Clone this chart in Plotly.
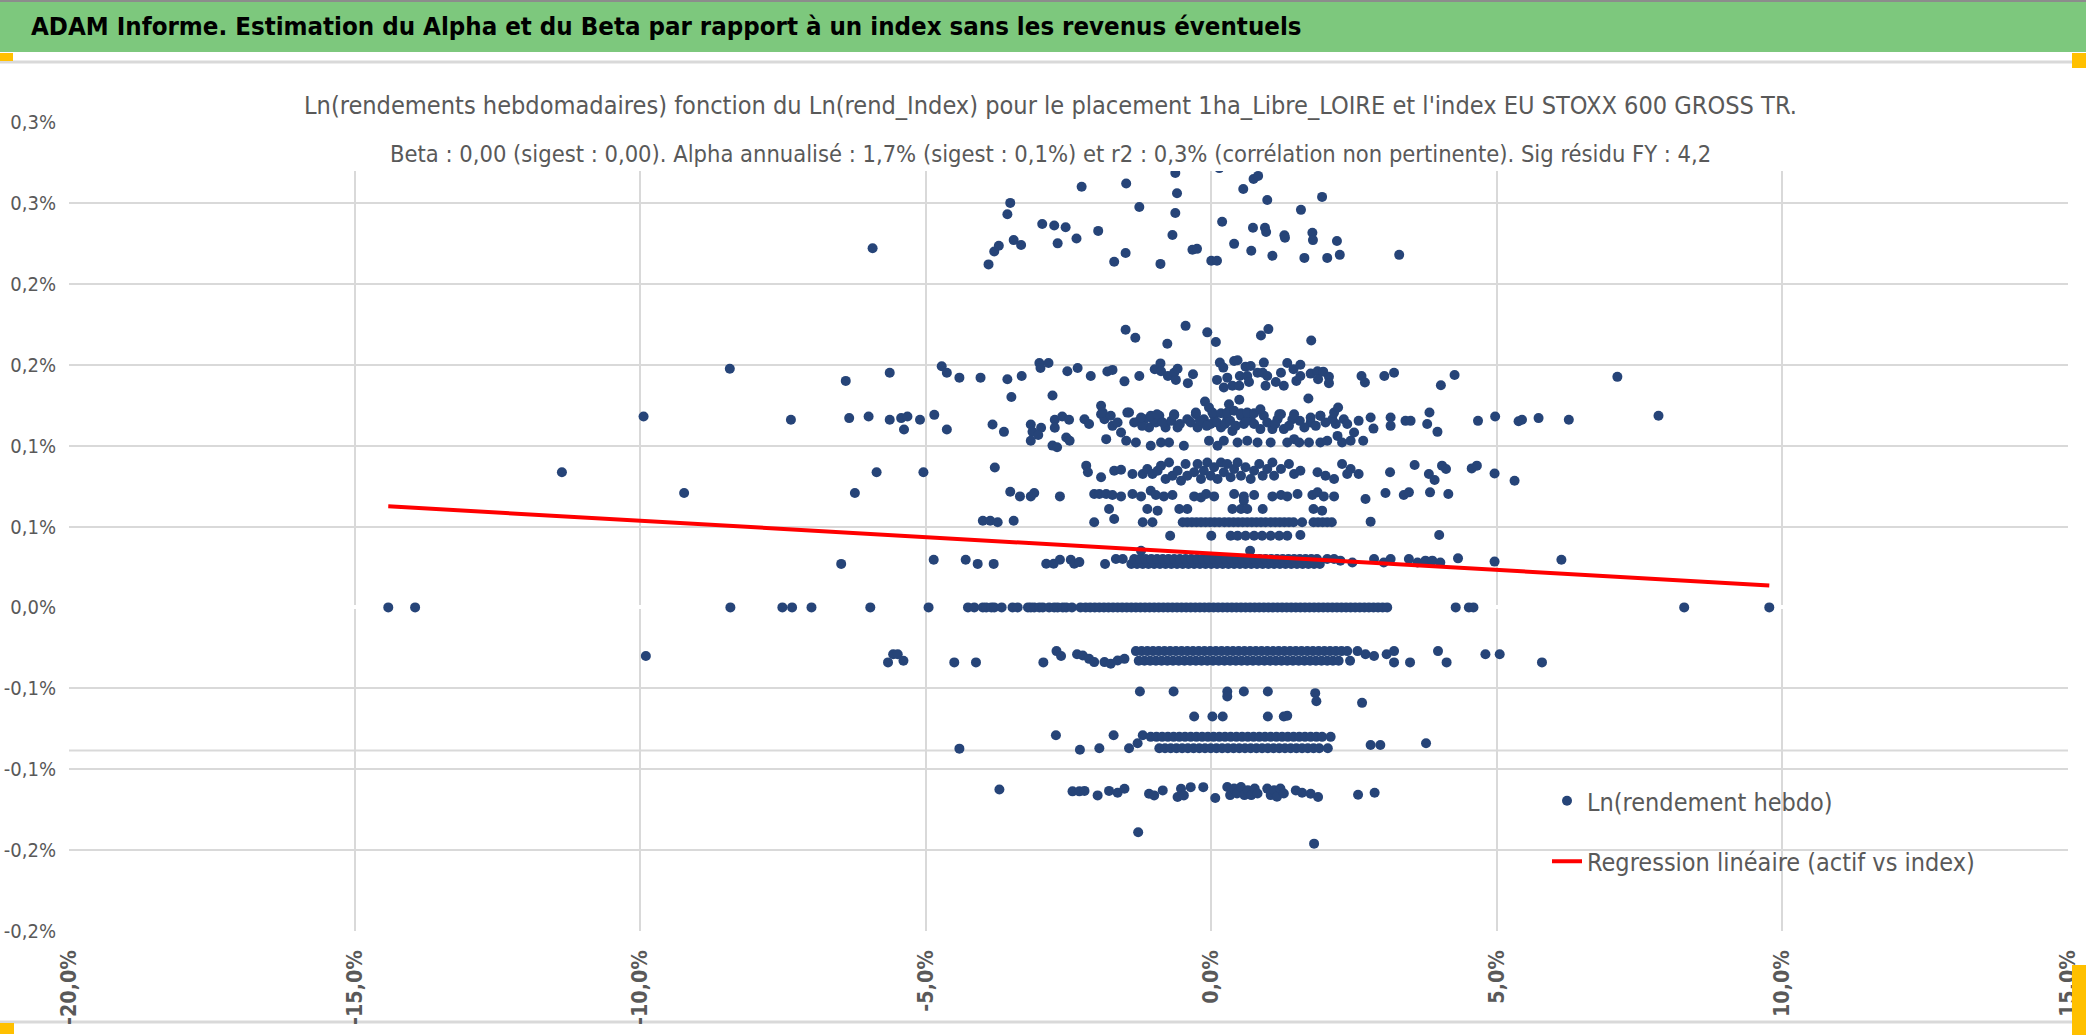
import plotly.graph_objects as go

# page and plot area, in pixels (layout only)
W, H = 2086, 1035
L, R, T, B = 69, 18, 122, 104
PW, PH = W - L - R, H - T - B


def px(x):
    return (x - L) / PW


def py(y):
    return (H - B - y) / PH


FONT = "Liberation Sans Narrow, Arial Narrow, DejaVu Sans Condensed, Liberation Sans, sans-serif"
GREY_TXT = "#595959"
GRID = "#D9D9D9"

# ---- data: weekly log returns (%) vs index log returns (%) ----
upper = [(-5.93, 0.222), (-3.90, 0.212), (-3.80, 0.220), (-3.72, 0.2235), (-3.57, 0.243),
         (-3.52, 0.250), (-3.46, 0.227), (-3.33, 0.224), (-2.96, 0.237), (-2.75, 0.236),
         (-2.69, 0.225), (-2.55, 0.235), (-2.36, 0.228), (-2.27, 0.260), (-1.98, 0.2327),
         (-1.70, 0.2136), (-1.50, 0.219), (-1.49, 0.262), (-1.26, 0.2475), (-0.89, 0.2123),
         (-0.68, 0.2302), (-0.63, 0.2685), (-0.63, 0.2438), (-0.60, 0.256), (-0.33, 0.221),
         (-0.25, 0.2216), (0.00, 0.2142), (0.10, 0.2142), (0.14, 0.2715), (0.19, 0.2383),
         (0.40, 0.2247), (0.56, 0.2586), (0.70, 0.2204), (0.73, 0.2346), (0.94, 0.2346),
         (0.96, 0.232), (0.98, 0.2518), (1.07, 0.2173), (1.28, 0.230), (1.29, 0.2285),
         (0.74, 0.2648), (0.82, 0.2667), (1.57, 0.2457), (1.63, 0.216), (1.77, 0.2315),
         (1.78, 0.227), (1.94, 0.2537), (2.03, 0.216), (2.20, 0.2265), (2.25, 0.2179),
         (3.29, 0.2179)]

band_165 = [(-1.50, 0.1716), (-1.33, 0.1667), (-0.77, 0.163), (-0.45, 0.174), (-0.07, 0.170),
            (0.08, 0.164), (0.87, 0.168), (1.00, 0.172), (1.75, 0.165)]

band_145 = [(-8.43, 0.1475), (-6.40, 0.140), (-5.63, 0.145), (-4.72, 0.149), (-4.63, 0.145),
            (-4.41, 0.142), (-4.04, 0.142), (-3.57, 0.141), (-3.32, 0.143), (-3.50, 0.130),
            (-3.01, 0.151), (-2.99, 0.148), (-2.85, 0.151), (-2.78, 0.131), (-2.52, 0.146),
            (-2.34, 0.148), (-2.11, 0.143), (-1.82, 0.1458), (-1.73, 0.1468), (-1.52, 0.1397),
            (-1.26, 0.143), (-0.99, 0.1472), (-0.89, 0.1508), (-0.88, 0.146), (-0.76, 0.143),
            (-0.65, 0.145), (-0.59, 0.1475), (-0.62, 0.1406), (-0.41, 0.1386), (-0.32, 0.1441),
            (0.10, 0.1406), (0.15, 0.1513), (0.21, 0.1482), (0.28, 0.142), (0.22, 0.1359),
            (0.40, 0.1523), (0.46, 0.1527), (0.37, 0.137), (0.49, 0.137), (0.50, 0.143),
            (0.60, 0.1488), (0.69, 0.1492), (0.63, 0.143), (0.66, 0.1393), (0.81, 0.145),
            (0.90, 0.145), (0.92, 0.1513), (0.95, 0.137), (0.98, 0.143), (1.13, 0.1393),
            (1.22, 0.145), (1.27, 0.137), (1.33, 0.151), (1.44, 0.1472), (1.49, 0.140),
            (1.56, 0.150), (1.56, 0.143), (1.74, 0.1445), (1.86, 0.146), (1.87, 0.141),
            (1.96, 0.1457), (2.06, 0.1425), (2.06, 0.1386), (2.63, 0.143), (2.69, 0.139),
            (3.03, 0.143), (3.20, 0.145), (4.02, 0.1373), (4.26, 0.1436), (7.11, 0.1425),
            (1.70, 0.1291), (0.49, 0.1283), (0.31, 0.1256), (-0.11, 0.1272)]

band_112 = [(-9.94, 0.118), (-7.36, 0.116), (-6.34, 0.117), (-6.00, 0.118), (-5.63, 0.116),
            (-5.43, 0.117), (-5.32, 0.118), (-5.38, 0.110), (-5.10, 0.116), (-4.85, 0.119),
            (-4.63, 0.110), (-3.83, 0.113), (-3.63, 0.1085), (-3.16, 0.113), (-3.13, 0.1085),
            (-2.98, 0.111), (-3.03, 0.1065), (-3.16, 0.103), (-2.78, 0.100), (-2.70, 0.099),
            (-2.74, 0.116), (-2.74, 0.111), (-2.61, 0.118), (-2.49, 0.116), (-2.54, 0.105),
            (-2.48, 0.103), (-2.22, 0.1163), (-2.14, 0.1133), (-1.93, 0.1194), (-1.87, 0.1163),
            (-1.84, 0.1040), (-1.73, 0.1122), (-1.64, 0.1143), (-1.58, 0.1081), (-1.49, 0.1030),
            (-1.44, 0.1205), (-1.32, 0.1019), (-1.26, 0.1153), (-1.17, 0.1163), (-1.09, 0.1112),
            (-1.06, 0.0999), (-0.97, 0.1143), (-0.91, 0.1184), (-0.88, 0.1019), (-0.80, 0.1112),
            (-0.74, 0.1019), (-0.65, 0.1194), (-0.59, 0.1112), (-0.48, 0.0999), (-0.42, 0.1163),
            (-0.27, 0.1194), (-0.24, 0.1112), (-0.13, 0.1163), (-0.04, 0.1030), (-0.01, 0.1133),
            (0.05, 0.1184), (0.11, 0.0999), (0.17, 0.1112), (0.22, 0.1030), (0.28, 0.1163),
            (0.37, 0.1091), (0.46, 0.1019), (0.52, 0.1184), (0.57, 0.1133), (0.63, 0.1030),
            (0.69, 0.1163), (0.81, 0.1019), (0.86, 0.1102), (0.92, 0.1184), (1.04, 0.1019),
            (1.07, 0.1102), (1.16, 0.1163), (1.22, 0.1194), (1.27, 0.1102), (1.33, 0.1019),
            (1.42, 0.1163), (1.45, 0.1040), (1.54, 0.1019), (1.71, 0.1019), (1.74, 0.1143),
            (1.91, 0.1019), (1.91, 0.1184), (2.03, 0.1030), (2.18, 0.1133), (2.21, 0.1060),
            (2.29, 0.1019), (2.32, 0.1163), (2.38, 0.1133), (2.44, 0.1030), (2.50, 0.1081),
            (2.66, 0.1030), (2.79, 0.1174), (2.84, 0.1105), (3.14, 0.1174), (3.14, 0.1122),
            (3.40, 0.1153), (3.49, 0.1153), (3.78, 0.1133), (3.82, 0.1205), (3.96, 0.1085),
            (4.67, 0.1153), (4.97, 0.1180), (5.38, 0.1150), (5.44, 0.1160), (5.73, 0.1170),
            (6.26, 0.1160), (7.83, 0.1184),
            (-1.35, 0.1143), (-1.21, 0.1122), (-1.02, 0.1163), (-0.85, 0.1143), (-0.70, 0.1153),
            (-0.55, 0.1133), (-0.36, 0.1143), (-0.20, 0.1153), (-0.08, 0.1122), (0.10, 0.1143),
            (0.24, 0.1133), (0.33, 0.1153), (0.43, 0.1122), (0.62, 0.1153), (0.75, 0.1133),
            (0.98, 0.1143), (1.12, 0.1133), (1.36, 0.1122), (1.55, 0.1153), (1.63, 0.1112),
            (1.83, 0.1122), (2.00, 0.1143), (2.12, 0.1163), (2.58, 0.1153),
            (-1.93, 0.1246), (-1.90, 0.1204), (-1.76, 0.1184), (-1.47, 0.1204), (-1.23, 0.1174),
            (-1.06, 0.1184), (-0.95, 0.1194), (-0.65, 0.1188), (-0.27, 0.1204), (-0.04, 0.1235),
            (0.02, 0.1204), (0.17, 0.1200), (0.28, 0.1204), (0.40, 0.1215), (0.52, 0.1200),
            (0.63, 0.1204), (0.75, 0.1200), (0.86, 0.1225), (1.19, 0.1194), (1.45, 0.1194),
            (1.74, 0.1174), (1.91, 0.1184), (2.15, 0.1204), (2.22, 0.1235)]

band_085 = [(-11.37, 0.0835), (-5.86, 0.0835), (-5.04, 0.0835), (-3.79, 0.0865),
            (-2.19, 0.0876), (-2.16, 0.0835), (-1.93, 0.0804), (-1.70, 0.0845), (-1.58, 0.0851),
            (-1.38, 0.0825), (-1.20, 0.0825), (-1.12, 0.0855), (-1.03, 0.0825), (-0.94, 0.0845),
            (-0.88, 0.0876), (-0.80, 0.0794), (-0.74, 0.0896), (-0.68, 0.0814), (-0.59, 0.0845),
            (-0.53, 0.0783), (-0.45, 0.0886), (-0.42, 0.0814), (-0.30, 0.0835), (-0.24, 0.0886),
            (-0.18, 0.0794), (-0.13, 0.0845), (-0.07, 0.0896), (-0.01, 0.0814), (0.05, 0.0866),
            (0.11, 0.0794), (0.17, 0.0896), (0.22, 0.0835), (0.28, 0.0886), (0.34, 0.0804),
            (0.40, 0.0855), (0.46, 0.0896), (0.52, 0.0814), (0.60, 0.0866), (0.69, 0.0794),
            (0.75, 0.0845), (0.84, 0.0886), (0.90, 0.0814), (0.98, 0.0855), (1.07, 0.0896),
            (1.10, 0.0814), (1.22, 0.0855), (1.36, 0.0886), (1.45, 0.0825), (1.56, 0.0845),
            (1.86, 0.0835), (2.00, 0.0814), (2.15, 0.0794), (2.29, 0.0886), (2.38, 0.0825),
            (2.44, 0.0855), (2.58, 0.0825), (3.13, 0.0835), (3.56, 0.0880), (3.81, 0.0825),
            (3.91, 0.0787), (4.04, 0.0876), (4.11, 0.0855), (4.56, 0.0859), (4.65, 0.0876),
            (4.96, 0.0828), (5.31, 0.0783)]

band_070 = [(-9.23, 0.0707), (-6.24, 0.0707), (-3.52, 0.0715), (-3.35, 0.0686), (-3.16, 0.0686),
            (-3.10, 0.0707), (-2.65, 0.0686), (-2.05, 0.0701), (-1.96, 0.0701), (-1.84, 0.0701),
            (-1.73, 0.0695), (-1.58, 0.0686), (-1.38, 0.0701), (-1.23, 0.0686), (-1.06, 0.0721),
            (-0.97, 0.0695), (-0.83, 0.0686), (-0.68, 0.0695), (-0.30, 0.0686), (-0.18, 0.0680),
            (-0.09, 0.0701), (0.05, 0.0686), (0.40, 0.0701), (0.57, 0.0686), (0.57, 0.0660),
            (0.75, 0.0695), (1.07, 0.0686), (1.22, 0.0695), (1.33, 0.0686), (1.51, 0.0701),
            (1.77, 0.0695), (1.86, 0.0711), (1.97, 0.0686), (2.15, 0.0686), (2.70, 0.0670),
            (3.05, 0.0707), (3.37, 0.0695), (3.46, 0.0711), (3.83, 0.0711), (4.15, 0.0701)]

band_057 = [(-4.00, 0.0536), (-3.87, 0.0536), (-3.74, 0.0526), (-3.46, 0.0536),
            (-2.05, 0.0526), (-1.79, 0.0608), (-1.70, 0.0546), (-1.20, 0.0526), (-1.12, 0.0608),
            (-1.03, 0.0526), (-0.94, 0.0598), (-0.56, 0.0608), (-0.42, 0.0608), (0.37, 0.0608),
            (0.52, 0.0608), (0.63, 0.0608), (0.90, 0.0608), (1.79, 0.0608), (1.94, 0.0598),
            (2.79, 0.0530)]
row_053_x = [-0.50, -0.42, -0.34, -0.26, -0.18, -0.10, -0.02, 0.06, 0.14, 0.23, 0.31, 0.39,
             0.47, 0.55, 0.63, 0.71, 0.79, 0.87, 0.95, 1.04, 1.12, 1.20, 1.28, 1.36, 1.44,
             1.59, 1.79, 1.87, 1.95, 2.03, 2.11]
row_053_level = 0.0526

band_044 = [(-0.72, 0.0443), (0.00, 0.0443), (0.34, 0.0443), (0.46, 0.0443), (0.60, 0.0443),
            (0.75, 0.0443), (0.89, 0.0443), (1.04, 0.0443), (1.19, 0.0443), (1.33, 0.0443),
            (1.56, 0.0447), (3.99, 0.0447)]

band_029 = [(-6.48, 0.0269), (-4.86, 0.0295), (-4.30, 0.0295), (-4.09, 0.0269), (-3.81, 0.0269),
            (-2.89, 0.0270), (-2.76, 0.0270), (-2.65, 0.0295), (-2.46, 0.0295), (-2.40, 0.0270),
            (-2.31, 0.0280), (-1.86, 0.0268), (-1.67, 0.0299), (-1.55, 0.0299), (-1.23, 0.0350),
            (0.68, 0.0350), (2.03, 0.0299), (2.15, 0.0299), (2.26, 0.0289), (2.47, 0.0278),
            (2.85, 0.0299), (3.02, 0.0278), (3.14, 0.0299), (3.46, 0.0299), (3.61, 0.0278),
            (3.75, 0.0289), (3.87, 0.0289), (4.01, 0.0278), (4.32, 0.0303), (4.96, 0.0283),
            (6.13, 0.0295)]
row_027_x = [-1.40, -1.30, -1.20, -1.10, -1.00, -0.90, -0.80, -0.70, -0.60, -0.50, -0.40,
             -0.30, -0.20, -0.10, 0.00, 0.10, 0.20, 0.30, 0.40, 0.50, 0.60, 0.70, 0.80, 0.90,
             1.00, 1.10, 1.20, 1.30, 1.40, 1.50, 1.60, 1.70, 1.80, 1.90]
row_027_level = 0.0268
row_030_x = [-1.35, -1.25, -1.15, -1.05, -0.95, -0.85, -0.75, -0.65, -0.55, -0.45, -0.35,
             -0.25, -0.15, -0.05, 0.05, 0.15, 0.25, 0.35, 0.45, 0.55, 0.65, 0.75, 0.85, 0.95,
             1.05, 1.15, 1.25, 1.35, 1.45, 1.55, 1.65, 1.75, 1.85]
row_030_level = 0.0299

zero_x = [-14.41, -13.94, -8.42, -7.51, -7.34, -7.00, -5.97, -4.95, -4.26, -4.15, -4.00,
          -3.94, -3.85, -3.80, -3.67, -3.48, -3.39, -3.21, -3.16, -3.10, -3.01, -2.95, -2.84,
          -2.75, -2.69, -2.60, -2.54, -2.44, -2.29, -2.20, -2.12, -2.04, -1.96, -1.88, -1.80,
          -1.72, -1.64, -1.56, -1.48, -1.40, -1.32, -1.24, -1.16, -1.08, -1.00, -0.92, -0.84,
          -0.76, -0.68, -0.60, -0.52, -0.44, -0.36, -0.28, -0.20, -0.12, -0.04, 0.04, 0.12,
          0.20, 0.28, 0.36, 0.44, 0.52, 0.60, 0.68, 0.76, 0.84, 0.92, 1.00, 1.08, 1.16, 1.24,
          1.32, 1.40, 1.48, 1.56, 1.64, 1.72, 1.80, 1.88, 1.96, 2.04, 2.12, 2.20, 2.28, 2.36,
          2.44, 2.52, 2.60, 2.68, 2.76, 2.84, 2.92, 3.00, 3.08, 4.28, 4.51, 4.59, 8.28, 9.77]
zero_level = 0.0

band_m030 = [(-9.90, -0.030), (-5.66, -0.034), (-5.57, -0.029), (-5.49, -0.029), (-5.39, -0.033),
             (-4.50, -0.034), (-4.12, -0.034), (-2.94, -0.034), (-2.71, -0.027), (-2.63, -0.030),
             (-2.35, -0.029), (-2.25, -0.0297), (-2.14, -0.0318), (-2.05, -0.0338), (-1.87, -0.0338),
             (-1.76, -0.0348), (-1.64, -0.0328), (-1.52, -0.0318), (2.70, -0.029), (2.85, -0.030),
             (3.07, -0.029), (3.20, -0.027), (3.20, -0.034), (3.48, -0.034), (3.97, -0.027),
             (4.12, -0.034), (4.80, -0.029), (5.05, -0.029), (5.79, -0.034)]
row_m027_x = [-1.32, -1.22, -1.12, -1.02, -0.92, -0.82, -0.72, -0.62, -0.52, -0.42, -0.32,
              -0.22, -0.12, -0.02, 0.08, 0.18, 0.28, 0.38, 0.48, 0.58, 0.68, 0.78, 0.88, 0.98,
              1.08, 1.18, 1.28, 1.38, 1.48, 1.58, 1.68, 1.78, 1.88, 1.98, 2.08, 2.18, 2.28,
              2.38, 2.56]
row_m027_level = -0.0270
row_m033_x = [-1.27, -1.17, -1.07, -0.97, -0.87, -0.77, -0.67, -0.57, -0.47, -0.37, -0.27,
              -0.17, -0.07, 0.03, 0.13, 0.23, 0.33, 0.43, 0.53, 0.63, 0.73, 0.83, 0.93, 1.03,
              1.13, 1.23, 1.33, 1.43, 1.53, 1.63, 1.73, 1.83, 1.93, 2.03, 2.13, 2.23, 2.43]
row_m033_level = -0.0330

band_m060 = [(-1.25, -0.052), (-0.66, -0.052), (0.28, -0.052), (0.28, -0.055), (0.57, -0.052),
             (0.99, -0.052), (1.82, -0.053), (1.84, -0.058), (2.64, -0.059), (-0.30, -0.0674),
             (0.02, -0.0674), (0.20, -0.0674), (0.99, -0.0674), (1.27, -0.0674), (1.33, -0.0670)]

band_m085 = [(-4.41, -0.0873), (-2.72, -0.0790), (-2.30, -0.0880), (-1.96, -0.0870),
             (-1.71, -0.0790), (-1.44, -0.0870), (-1.29, -0.0840), (-1.20, -0.0790),
             (-1.06, -0.0800), (2.79, -0.0850), (2.96, -0.0850), (3.76, -0.0840)]
row_m080_x = [-0.96, -0.86, -0.76, -0.66, -0.56, -0.46, -0.36, -0.26, -0.16, -0.06, 0.04,
              0.14, 0.24, 0.34, 0.44, 0.54, 0.64, 0.74, 0.84, 0.94, 1.04, 1.14, 1.24, 1.34,
              1.44, 1.54, 1.64, 1.74, 1.84, 1.94, 2.09]
row_m080_level = -0.0800
row_m087_x = [-0.91, -0.81, -0.71, -0.61, -0.51, -0.41, -0.31, -0.21, -0.11, -0.01, 0.09,
              0.19, 0.29, 0.39, 0.49, 0.59, 0.69, 0.79, 0.89, 0.99, 1.09, 1.19, 1.29, 1.39,
              1.49, 1.59, 1.69, 1.79, 1.89, 2.04]
row_m087_level = -0.0870

band_m115 = [(-3.71, -0.1125), (-2.43, -0.1137), (-2.31, -0.1137), (-2.22, -0.1134),
             (-1.99, -0.1162), (-1.79, -0.1134), (-1.64, -0.1146), (-1.52, -0.1121),
             (-1.09, -0.1152), (-1.00, -0.1162), (-0.85, -0.1131), (-0.59, -0.1172),
             (-0.53, -0.1121), (-0.48, -0.1162), (-0.36, -0.1111), (-0.14, -0.1111),
             (0.07, -0.1178), (0.28, -0.111), (0.33, -0.116), (0.40, -0.112), (0.45, -0.115),
             (0.52, -0.111), (0.58, -0.116), (0.64, -0.113), (0.70, -0.116), (0.76, -0.112),
             (0.81, -0.115), (0.98, -0.112), (1.04, -0.116), (1.10, -0.113), (1.15, -0.117),
             (1.21, -0.112), (1.27, -0.115), (1.48, -0.1131), (1.59, -0.1146), (1.74, -0.1152),
             (1.87, -0.1172), (2.57, -0.1158), (2.86, -0.1146), (-1.28, -0.139), (1.80, -0.146)]

# fitted regression line end points (%)
reg_x = [-14.41, 9.77]
reg_y = [0.0625, 0.0135]

x_tickvals = [-20, -15, -10, -5, 0, 5, 10, 15]
x_ticktext = ["-20,0%", "-15,0%", "-10,0%", "-5,0%", "0,0%", "5,0%", "10,0%", "15,0%"]
y_tickvals = [-0.20, -0.15, -0.10, -0.05, 0.0, 0.05, 0.10, 0.15, 0.20, 0.25, 0.30]
y_ticktext = ["-0,2%", "-0,2%", "-0,1%", "-0,1%", "0,0%", "0,1%", "0,1%", "0,2%", "0,2%", "0,3%", "0,3%"]

# ---- gather points ----
pts_x, pts_y = [], []
for band in (upper, band_165, band_145, band_112, band_085, band_070, band_057, band_044,
             band_029, band_m030, band_m060, band_m085, band_m115):
    pts_x += [p[0] for p in band]
    pts_y += [p[1] for p in band]
for xs, lev in ((row_053_x, row_053_level), (row_027_x, row_027_level),
                (row_030_x, row_030_level), (zero_x, zero_level),
                (row_m027_x, row_m027_level), (row_m033_x, row_m033_level),
                (row_m080_x, row_m080_level), (row_m087_x, row_m087_level)):
    pts_x += xs
    pts_y += [lev] * len(xs)

fig = go.Figure()
fig.add_trace(go.Scatter(
    x=pts_x, y=pts_y, mode="markers", name="Ln(rendement hebdo)",
    legendgroup="a",
    marker=dict(color="#264478", size=10, line=dict(width=0)),
))
fig.add_trace(go.Scatter(
    x=reg_x, y=reg_y, mode="lines", name="Regression linéaire (actif vs index)",
    legendgroup="b",
    line=dict(color="#FF0000", width=4),
))

shapes = [
    # green banner
    dict(type="rect", xref="paper", yref="paper", x0=px(0), x1=px(W), y0=py(52), y1=py(0),
         fillcolor="#7DC87D", line=dict(width=0), layer="below"),
    dict(type="line", xref="paper", yref="paper", x0=px(0), x1=px(W), y0=py(1), y1=py(1),
         line=dict(color="#8C8C8C", width=2), layer="below"),
    dict(type="line", xref="paper", yref="paper", x0=px(0), x1=px(W), y0=py(62), y1=py(62),
         line=dict(color=GRID, width=3), layer="below"),
    dict(type="line", xref="paper", yref="paper", x0=px(0), x1=px(W), y0=py(1022), y1=py(1022),
         line=dict(color=GRID, width=3), layer="below"),
    # stray horizontal rule inside the plot
    dict(type="line", xref="paper", yref="y", x0=0, x1=1, y0=-0.0884, y1=-0.0884,
         line=dict(color=GRID, width=2), layer="below"),
    # title box masking the grid
    dict(type="rect", xref="paper", yref="paper", x0=px(295), x1=px(1786), y0=py(171), y1=py(64),
         fillcolor="white", line=dict(width=0), layer="above"),
    # selection handles
    dict(type="rect", xref="paper", yref="paper", x0=px(0), x1=px(13), y0=py(61), y1=py(53),
         fillcolor="#FFC000", line=dict(width=0)),
    dict(type="rect", xref="paper", yref="paper", x0=px(2072), x1=px(W), y0=py(68), y1=py(53),
         fillcolor="#FFC000", line=dict(width=0)),
    dict(type="rect", xref="paper", yref="paper", x0=px(0), x1=px(14), y0=py(1034), y1=py(1023),
         fillcolor="#FFC000", line=dict(width=0)),
    dict(type="rect", xref="paper", yref="paper", x0=px(2072), x1=px(W), y0=py(H), y1=py(965),
         fillcolor="#FFC000", line=dict(width=0)),
]

annotations = [
    dict(text="ADAM Informe. Estimation du Alpha et du Beta par rapport à un index sans les revenus éventuels",
         xref="paper", yref="paper", x=px(29), y=py(26), xanchor="left", yanchor="middle",
         showarrow=False, font=dict(family=FONT, size=25.6, color="black", weight="bold")),
    dict(text="Ln(rendements hebdomadaires) fonction du Ln(rend_Index) pour le placement "
              "1ha_Libre_LOIRE et l'index EU STOXX 600 GROSS TR.",
         xref="paper", yref="paper", x=px(1050), y=py(105), xanchor="center", yanchor="middle",
         showarrow=False, font=dict(family=FONT, size=25.1, color=GREY_TXT)),
    dict(text="Beta : 0,00 (sigest : 0,00). Alpha annualisé : 1,7% (sigest : 0,1%) et r2 : 0,3% "
              "(corrélation non pertinente). Sig résidu FY : 4,2",
         xref="paper", yref="paper", x=px(1050), y=py(154), xanchor="center", yanchor="middle",
         showarrow=False, font=dict(family=FONT, size=23.5, color=GREY_TXT)),
]

fig.update_layout(
    width=W, height=H,
    margin=dict(l=L, r=R, t=T, b=B, pad=0, autoexpand=False),
    paper_bgcolor="white", plot_bgcolor="white",
    font=dict(family=FONT, color=GREY_TXT),
    shapes=shapes, annotations=annotations,
    showlegend=True,
    legend=dict(x=px(1547), y=py(778), xanchor="left", yanchor="top",
                bgcolor="rgba(0,0,0,0)", font=dict(family=FONT, size=25, color=GREY_TXT),
                traceorder="grouped", tracegroupgap=25),
    xaxis=dict(range=[-20, 15], tickvals=x_tickvals, ticktext=x_ticktext, tickangle=-90,
               showgrid=True, gridcolor=GRID, gridwidth=2, zeroline=False, showline=False,
               ticks="", ticklabelstandoff=14, automargin=False,
               tickfont=dict(family=FONT, size=21.4, color=GREY_TXT, weight="bold")),
    yaxis=dict(range=[-0.2, 0.3], tickvals=y_tickvals, ticktext=y_ticktext,
               showgrid=True, gridcolor=GRID, gridwidth=2,
               zeroline=True, zerolinecolor="white", zerolinewidth=4, showline=False,
               ticks="", ticklabelstandoff=12, automargin=False,
               tickfont=dict(family=FONT, size=20, color=GREY_TXT)),
)

fig.write_html("out.html", config={"displayModeBar": False},
               post_script="document.body.style.margin='0px';")
